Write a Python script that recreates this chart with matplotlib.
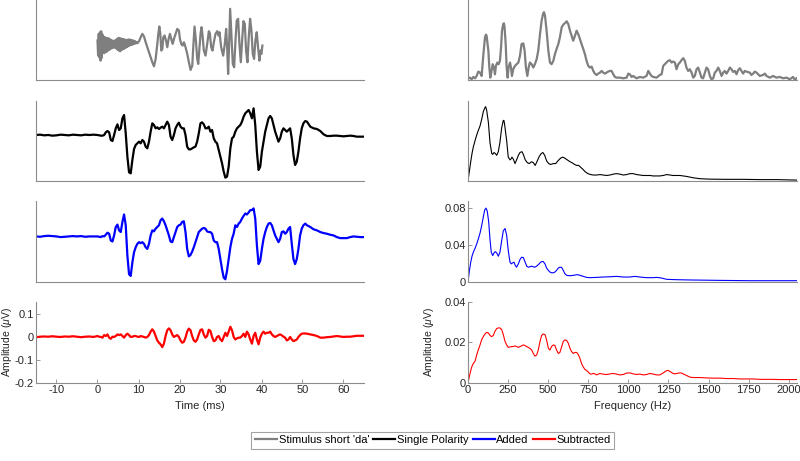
import numpy as np
import matplotlib
matplotlib.use("Agg")
import matplotlib.pyplot as plt
from matplotlib.lines import Line2D

plt.rcParams['font.family'] = ['Liberation Sans', 'DejaVu Sans']
plt.rcParams['font.size'] = 8
plt.rcParams['axes.unicode_minus'] = False
plt.rcParams['mathtext.fontset'] = 'custom'
plt.rcParams['mathtext.it'] = 'Liberation Sans:italic'
plt.rcParams['mathtext.rm'] = 'Liberation Sans'

# ---------------- time domain (ms) ----------------
# stimulus: onset burst sampled every 0.15 ms, then the voiced part
burst_dt = 0.15
stim_burst = [0.10, -0.35, 0.30, -0.40, 0.35, -0.50, 0.38, -0.42, 0.28, -0.25,
              0.22, -0.28, 0.20, -0.22, 0.18, -0.24, 0.16, -0.20, 0.17, -0.18,
              0.14, -0.15, 0.12, -0.13, 0.10, -0.12, 0.09, -0.10, 0.10, -0.12,
              0.12, -0.14, 0.15, -0.18, 0.18, -0.20, 0.17, -0.22, 0.16, -0.18,
              0.15, -0.16, 0.14, -0.15, 0.13, -0.12, 0.12, -0.10, 0.12, -0.08,
              0.13, -0.06, 0.13, -0.04, 0.12, -0.03, 0.11, -0.02, 0.10, 0.00,
              0.09, 0.01, 0.07, 0.02, 0.04]
stim_t = [9.72, 10.13, 10.54, 10.94, 11.35, 11.75, 12.16, 12.56, 12.97, 13.37,
          13.78, 14.18, 14.59, 14.83, 15.08, 15.32, 15.56, 15.81, 16.05, 16.37,
          16.70, 17.02, 17.35, 17.67, 18.00, 18.32, 18.65, 19.05, 19.46, 19.86,
          20.10, 20.43, 20.75, 21.08, 21.48, 21.89, 22.29, 22.70, 23.11, 23.35,
          23.67, 24.00, 24.32, 24.57, 24.81, 25.13, 25.38, 25.62, 25.94, 26.35,
          26.76, 27.16, 27.40, 27.73, 28.05, 28.38, 28.78, 29.19, 29.51, 29.76,
          30.16, 30.65, 31.05, 31.38, 31.62, 31.86, 32.11, 32.35, 32.68, 33.00,
          33.33, 33.65, 33.97, 34.30, 34.62, 34.95, 35.27, 35.59, 35.92, 36.24,
          36.57, 36.89, 37.22, 37.54, 37.87, 38.19, 38.51, 38.84, 39.16, 39.49,
          39.73, 39.97, 40.22]
stim_v = [0.02, 0.08, 0.20, 0.30, 0.22, 0.05, -0.10, -0.25, -0.40, -0.55,
          -0.67, -0.45, 0.00, 0.30, 0.52, 0.30, -0.20, -0.15, 0.20, 0.25,
          0.10, -0.10, 0.15, 0.30, 0.15, 0.00, 0.15, 0.30, 0.45, 0.40,
          0.15, 0.00, -0.05, 0.05, -0.10, -0.30, -0.55, -0.78, -0.65, -0.10,
          0.52, 0.10, -0.45, -0.60, -0.20, 0.30, 0.50, 0.25, -0.20, -0.35,
          0.00, 0.38, 0.32, -0.10, -0.20, 0.05, 0.30, 0.38, 0.25, 0.35,
          -0.10, -0.35, 0.00, 0.45, -0.10, -0.90, 0.00, 1.05, 0.20, -0.60,
          -0.70, 0.10, 0.70, 0.75, 0.00, -0.55, 0.10, 0.68, 0.60, -0.20,
          -0.55, 0.20, 0.75, 0.40, -0.30, -0.45, 0.10, 0.35, -0.10, -0.50,
          -0.20, -0.30, -0.05]

# responses: pre-stimulus (1 ms steps), main part (0.405 ms steps from 0), tail
pre_t = [-15, -14, -13, -12, -11, -10, -9, -8, -7, -6, -5, -4, -3, -2, -1]
resp_dt = 0.405
tail_t = [50.68, 51.09, 51.90, 52.71, 53.52, 54.33, 55.14, 55.95, 56.76, 57.57,
          58.38, 59.19, 60.00, 60.81, 61.62, 62.44, 63.25, 64.06, 65.0]

single_pre = [0.0, 0.01, -0.01, 0.0, -0.02, -0.01, 0.01, 0.0, -0.01, 0.01,
              0.0, -0.01, 0.01, 0.0, 0.01]
single_main = [0.00, -0.01, -0.02, -0.02, 0.00, 0.08, 0.12, 0.08, -0.15, -0.18,
               0.00, 0.20, 0.32, 0.15, 0.20, 0.50, 0.60, 0.05, -0.65, -1.12,
               -1.15, -0.75, -0.42, -0.30, -0.25, -0.20, -0.25, -0.15, -0.20, -0.35,
               -0.40, -0.20, 0.10, 0.35, 0.30, 0.20, 0.23, 0.18, 0.22, 0.25,
               0.20, 0.30, 0.40, 0.30, -0.05, -0.15, 0.00, 0.20, 0.30, 0.37,
               0.25, 0.20, 0.20, 0.00, -0.35, -0.43, -0.43, -0.40, -0.37, -0.35,
               -0.20, 0.05, 0.35, 0.38, 0.32, 0.20, 0.20, 0.25, 0.10, 0.15,
               -0.10, -0.20, -0.25, -0.45, -0.65, -0.85, -1.10, -1.28, -1.25, -0.95,
               -0.40, -0.10, -0.05, 0.10, 0.20, 0.25, 0.30, 0.40, 0.55, 0.65,
               0.70, 0.75, 0.65, 0.50, 0.80, 0.30, -0.50, -1.05, -0.95, -0.50,
               -0.20, 0.10, 0.30, 0.50, 0.57, 0.50, 0.30, 0.10, -0.05, -0.20,
               -0.10, 0.10, 0.20, 0.15, 0.10, 0.15, 0.20, -0.10, -0.60, -0.90,
               -0.80, -0.50, -0.10, 0.20, 0.35]
single_tail = [0.42, 0.40, 0.25, 0.20, 0.18, 0.12, 0.02, -0.03, -0.03, -0.02,
               -0.02, -0.03, -0.04, -0.03, -0.02, -0.03, -0.05, -0.05, -0.05]

added_pre = [0.0, -0.01, 0.01, 0.02, 0.01, 0.0, -0.02, -0.01, 0.0, 0.01,
             0.0, 0.01, -0.01, 0.0, 0.0]
added_main = [0.00, -0.01, -0.02, 0.01, 0.00, 0.05, 0.11, 0.08, -0.12, -0.15,
              0.03, 0.28, 0.35, 0.18, 0.13, 0.43, 0.65, 0.33, -0.57, -1.12,
              -1.17, -0.77, -0.47, -0.32, -0.22, -0.17, -0.20, -0.17, -0.22, -0.32,
              -0.37, -0.22, 0.03, 0.18, 0.15, 0.23, 0.28, 0.33, 0.48, 0.53,
              0.45, 0.33, 0.18, 0.03, -0.15, -0.17, -0.02, 0.13, 0.28, 0.33,
              0.35, 0.43, 0.45, 0.13, -0.37, -0.59, -0.55, -0.45, -0.32, -0.17,
              -0.02, 0.13, 0.18, 0.23, 0.25, 0.23, 0.15, 0.13, 0.13, 0.08,
              -0.12, -0.17, -0.17, -0.37, -0.67, -0.97, -1.22, -1.27, -1.02, -0.67,
              -0.32, -0.07, 0.08, 0.33, 0.28, 0.38, 0.43, 0.53, 0.61, 0.68,
              0.65, 0.71, 0.78, 0.78, 0.83, 0.53, -0.27, -0.82, -0.72, -0.37,
              -0.07, 0.13, 0.28, 0.38, 0.40, 0.33, 0.18, 0.03, -0.07, -0.17,
              -0.07, 0.13, 0.15, 0.08, 0.13, 0.23, 0.28, -0.22, -0.67, -0.82,
              -0.67, -0.37, 0.03, 0.23, 0.33]
added_tail = [0.38, 0.33, 0.28, 0.21, 0.18, 0.13, 0.10, 0.08, 0.05, 0.03,
              -0.02, -0.05, -0.05, -0.05, -0.02, 0.00, -0.01, -0.02, -0.02]

sub_pre = [-0.002, 0.0, 0.001, 0.0, 0.002, 0.0, -0.001, 0.001, 0.0, 0.002,
           0.0, -0.002, 0.0, 0.001, -0.001]
sub_main = [0.003, 0.000, -0.001, -0.004, 0.007, 0.003, 0.010, -0.004, -0.009, 0.000,
            -0.001, 0.003, 0.010, 0.007, 0.010, 0.003, -0.004, 0.007, 0.013, 0.007,
            -0.001, 0.000, 0.003, 0.003, 0.000, -0.001, 0.003, 0.001, -0.001, -0.004,
            -0.001, 0.007, 0.022, 0.032, 0.022, 0.003, -0.016, -0.026, -0.033, -0.045,
            -0.030, 0.003, 0.028, 0.036, 0.028, 0.010, -0.001, 0.003, 0.007, -0.001,
            -0.016, -0.026, -0.022, -0.004, 0.022, 0.035, 0.028, 0.003, -0.016, -0.022,
            -0.012, 0.010, 0.029, 0.032, 0.010, -0.004, 0.003, 0.030, 0.025, -0.001,
            -0.019, -0.016, -0.001, 0.003, -0.012, -0.019, -0.001, 0.017, 0.003, 0.022,
            0.043, 0.028, -0.001, -0.012, -0.007, -0.004, -0.004, 0.003, 0.013, -0.001,
            0.022, 0.010, -0.012, -0.030, 0.003, 0.017, -0.012, -0.033, -0.004, 0.013,
            0.022, 0.013, 0.017, 0.017, 0.022, 0.010, 0.003, -0.001, 0.003, 0.007,
            0.010, 0.006, 0.000, -0.004, -0.016, -0.012, -0.001, -0.012, -0.019, -0.016,
            -0.012, -0.001, 0.007, 0.013, 0.014]
sub_tail = [0.014, 0.013, 0.010, 0.007, 0.003, -0.004, -0.004, -0.002, -0.001, 0.001,
            0.003, 0.001, -0.001, 0.000, 0.000, 0.002, 0.004, 0.004, 0.004]

# ---------------- spectra (Hz) ----------------
stim_f = [2, 12, 23, 33, 44, 54, 64, 75, 85, 96, 106, 112, 116, 127, 133, 139, 145,
          154, 162, 168, 174, 183, 191, 199, 206, 212, 220, 224, 228, 235, 241, 247,
          253, 262, 268, 274, 282, 293, 303, 314, 324, 334, 345, 353, 361, 370, 378,
          386, 397, 407, 417, 428, 438, 449, 459, 469, 474, 480, 490, 501, 511, 521,
          532, 542, 552, 563, 573, 584, 594, 604, 615, 625, 636, 646, 656, 667, 677,
          687, 698, 708, 719, 729, 739, 750, 760, 771, 781, 791, 802, 812, 823, 833,
          843, 854, 864, 874, 885, 895, 906, 916, 926, 947, 968, 989, 999, 1009, 1020,
          1030, 1051, 1072, 1092, 1113, 1124, 1134, 1144, 1155, 1176, 1196, 1207, 1217,
          1227, 1238, 1248, 1259, 1269, 1279, 1290, 1300, 1311, 1321, 1331, 1342, 1352,
          1362, 1373, 1383, 1394, 1404, 1414, 1425, 1435, 1446, 1456, 1466, 1477, 1487,
          1497, 1508, 1518, 1529, 1539, 1549, 1560, 1570, 1581, 1591, 1601, 1612, 1622,
          1633, 1643, 1653, 1664, 1674, 1684, 1695, 1705, 1715, 1726, 1736, 1757, 1767,
          1778, 1788, 1799, 1819, 1840, 1851, 1861, 1882, 1903, 1923, 1944, 1965, 1986,
          2006, 2027, 2038, 2048]
stim_spec = [0.025, 0.035, 0.01, 0.045, 0.025, 0.06, 0.125, 0.11, 0.06, 0.385, 0.64,
             0.675, 0.66, 0.435, 0.185, 0.035, 0.11, 0.235, 0.185, 0.085, 0.21, 0.26,
             0.235, 0.285, 0.485, 0.735, 0.835, 0.845, 0.785, 0.535, 0.185, 0.035,
             0.185, 0.26, 0.185, 0.06, 0.16, 0.21, 0.235, 0.26, 0.36, 0.535, 0.545,
             0.435, 0.185, 0.06, 0.185, 0.26, 0.235, 0.185, 0.235, 0.31, 0.435, 0.685,
             0.885, 0.995, 1.01, 0.96, 0.735, 0.435, 0.26, 0.235, 0.285, 0.385, 0.46,
             0.535, 0.635, 0.785, 0.825, 0.845, 0.875, 0.835, 0.735, 0.66, 0.585, 0.66,
             0.735, 0.685, 0.61, 0.535, 0.46, 0.385, 0.285, 0.21, 0.185, 0.2, 0.135,
             0.095, 0.075, 0.095, 0.11, 0.135, 0.11, 0.095, 0.11, 0.125, 0.135, 0.135,
             0.085, 0.045, 0.035, 0.035, 0.025, 0.035, 0.095, 0.085, 0.045, 0.06, 0.025,
             0.045, 0.035, 0.06, 0.135, 0.095, 0.06, 0.045, 0.035, 0.075, 0.085, 0.21,
             0.235, 0.26, 0.285, 0.295, 0.26, 0.275, 0.26, 0.16, 0.235, 0.26, 0.295,
             0.325, 0.285, 0.185, 0.135, 0.16, 0.11, 0.035, 0.06, 0.16, 0.185, 0.11,
             0.035, 0.025, 0.11, 0.185, 0.16, 0.06, 0.01, 0.025, 0.11, 0.135, 0.185,
             0.135, 0.06, 0.11, 0.135, 0.095, 0.135, 0.185, 0.16, 0.12, 0.135, 0.085,
             0.145, 0.175, 0.135, 0.095, 0.135, 0.125, 0.11, 0.075, 0.095, 0.125, 0.11,
             0.06, 0.075, 0.095, 0.06, 0.035, 0.06, 0.035, 0.045, 0.025, 0.035, 0.01,
             0.045, 0.0, 0.025]

single_f = [0, 8, 17, 25, 33, 44, 54, 64, 75, 85, 96, 106, 110, 116, 127, 137, 148,
            154, 162, 170, 179, 189, 199, 210, 220, 224, 228, 241, 251, 262, 268, 274,
            282, 293, 303, 314, 324, 336, 345, 357, 370, 382, 397, 407, 419, 432, 445,
            457, 467, 478, 490, 503, 515, 532, 547, 561, 578, 590, 603, 619, 636, 648,
            665, 677, 690, 702, 715, 731, 748, 765, 781, 802, 823, 843, 864, 885, 906,
            926, 947, 968, 989, 1009, 1030, 1051, 1072, 1092, 1113, 1134, 1155, 1176,
            1196, 1217, 1238, 1259, 1279, 1300, 1321, 1342, 1362, 1404, 1446, 1508,
            1612, 1715, 1819, 1923, 2048]
single_spec = [0.0, 0.010, 0.021, 0.030, 0.037, 0.044, 0.050, 0.055, 0.060, 0.067,
               0.076, 0.080, 0.081, 0.0775, 0.064, 0.042, 0.030, 0.029, 0.031, 0.030,
               0.028, 0.032, 0.042, 0.058, 0.066, 0.066, 0.062, 0.044, 0.026, 0.023,
               0.024, 0.026, 0.024, 0.019, 0.023, 0.028, 0.031, 0.032, 0.029, 0.023,
               0.020, 0.019, 0.021, 0.020, 0.017, 0.022, 0.027, 0.030, 0.031, 0.028,
               0.022, 0.019, 0.018, 0.019, 0.019, 0.022, 0.025, 0.026, 0.025, 0.023,
               0.021, 0.020, 0.018, 0.017, 0.017, 0.015, 0.013, 0.010, 0.008, 0.007,
               0.0065, 0.0065, 0.007, 0.0065, 0.006, 0.0065, 0.0075, 0.008, 0.0075,
               0.0065, 0.007, 0.008, 0.008, 0.007, 0.0065, 0.006, 0.006, 0.006, 0.0055,
               0.0055, 0.0055, 0.006, 0.007, 0.0065, 0.006, 0.006, 0.006, 0.0055, 0.005,
               0.0035, 0.0025, 0.002, 0.0018, 0.0018, 0.0015, 0.0015, 0.001]

added_f = [0, 8, 17, 25, 33, 44, 54, 64, 75, 85, 96, 104, 112, 120, 129, 137, 145,
           154, 162, 170, 179, 189, 199, 210, 220, 231, 241, 251, 262, 270, 278, 287,
           295, 303, 314, 324, 334, 345, 355, 366, 376, 386, 397, 407, 417, 428, 438,
           449, 459, 469, 480, 490, 501, 511, 521, 532, 542, 552, 563, 573, 584, 594,
           604, 615, 636, 656, 677, 687, 698, 719, 739, 760, 802, 843, 885, 926, 968,
           1009, 1041, 1072, 1113, 1155, 1176, 1207, 1238, 1300, 1383, 1549, 1757, 2048]
added_spec = [0.0, 0.0115, 0.0215, 0.028, 0.0323, 0.0366, 0.0412, 0.0466, 0.0531,
              0.061, 0.071, 0.0782, 0.0803, 0.0771, 0.0653, 0.0466, 0.0323, 0.0287,
              0.0316, 0.033, 0.0316, 0.028, 0.0323, 0.0448, 0.0556, 0.0581, 0.0509,
              0.0341, 0.0215, 0.0197, 0.0208, 0.0215, 0.0179, 0.0161, 0.0197, 0.0244,
              0.0269, 0.0265, 0.0222, 0.0172, 0.0161, 0.0165, 0.0172, 0.0165, 0.0161,
              0.0172, 0.0187, 0.0208, 0.0222, 0.0222, 0.0197, 0.0151, 0.0126, 0.0108,
              0.010, 0.010, 0.0108, 0.0126, 0.0151, 0.0161, 0.0158, 0.0126, 0.009,
              0.0072, 0.0068, 0.0072, 0.0079, 0.0079, 0.0072, 0.0061, 0.005, 0.0047,
              0.005, 0.0054, 0.0057, 0.0061, 0.0054, 0.0054, 0.0061, 0.0054, 0.0047,
              0.0047, 0.005, 0.0043, 0.0029, 0.0025, 0.0022, 0.0018, 0.0014, 0.0014]

sub_f = [0, 12, 23, 33, 44, 54, 64, 75, 85, 96, 106, 116, 127, 137, 147, 158, 168,
         179, 189, 199, 210, 220, 231, 241, 251, 262, 272, 282, 293, 303, 314, 324,
         334, 345, 355, 366, 376, 386, 397, 407, 417, 428, 438, 449, 459, 469, 480,
         490, 501, 511, 521, 532, 542, 552, 563, 573, 584, 594, 604, 615, 625, 636,
         646, 656, 667, 677, 687, 698, 708, 719, 729, 739, 750, 760, 771, 781, 791,
         802, 812, 823, 833, 843, 854, 864, 885, 906, 926, 947, 968, 989, 1009, 1030,
         1051, 1072, 1092, 1113, 1134, 1155, 1176, 1196, 1217, 1238, 1248, 1259, 1279,
         1290, 1300, 1321, 1331, 1342, 1363, 1383, 1404, 1446, 1487, 1529, 1570, 1612,
         1653, 1694, 1736, 1778, 1819, 1861, 1903, 1944, 1986, 2027, 2048]
sub_spec = [0.0, 0.0045, 0.0079, 0.0096, 0.0108, 0.0138, 0.0163, 0.0188, 0.0213,
            0.0230, 0.0242, 0.0250, 0.0247, 0.0235, 0.0229, 0.0235, 0.0255, 0.0269,
            0.0272, 0.0272, 0.0264, 0.0239, 0.0205, 0.0188, 0.0176, 0.0178, 0.0180,
            0.0180, 0.0183, 0.0180, 0.0176, 0.0180, 0.0183, 0.0188, 0.0185, 0.0180,
            0.0175, 0.0171, 0.0163, 0.0146, 0.0133, 0.0138, 0.0163, 0.0205, 0.0235,
            0.0242, 0.0239, 0.0213, 0.0171, 0.0163, 0.0180, 0.0188, 0.0185, 0.0163,
            0.0146, 0.0151, 0.0180, 0.0205, 0.0213, 0.0210, 0.0197, 0.0171, 0.0155,
            0.0146, 0.0151, 0.0151, 0.0141, 0.0121, 0.0096, 0.0079, 0.0067, 0.0062,
            0.0054, 0.0045, 0.0044, 0.0047, 0.0045, 0.0040, 0.0044, 0.0047, 0.0045,
            0.0044, 0.0042, 0.0042, 0.0045, 0.0047, 0.0044, 0.0040, 0.0042, 0.0049,
            0.0050, 0.0045, 0.0042, 0.0044, 0.0040, 0.0042, 0.0047, 0.0044, 0.0040,
            0.0040, 0.0050, 0.0061, 0.0062, 0.0057, 0.0047, 0.0045, 0.0047, 0.0050,
            0.0049, 0.0045, 0.0037, 0.0029, 0.0027, 0.0027, 0.0025, 0.0024, 0.0024,
            0.0022, 0.0022, 0.0020, 0.0020, 0.0020, 0.0018, 0.0018, 0.0018, 0.0017,
            0.0017, 0.0017, 0.0017]

labels = ["Stimulus short 'da'", "Single Polarity", "Added", "Subtracted"]
colors = ['#7f7f7f', 'black', 'blue', 'red']

# assemble time axes
burst_t = np.arange(len(stim_burst)) * burst_dt
main_t = np.arange(len(single_main)) * resp_dt
stim_time = np.concatenate([burst_t, stim_t])
stim_wave = np.concatenate([stim_burst, stim_v])
resp_time = np.concatenate([pre_t, main_t, tail_t])
waves = [np.concatenate([single_pre, single_main, single_tail]),
         np.concatenate([added_pre, added_main, added_tail]),
         np.concatenate([sub_pre, sub_main, sub_tail])]

fig = plt.figure(figsize=(8, 4.61), dpi=100)
rows = [(0.8265, 0.1725), (0.6074, 0.1735), (0.3883, 0.1757), (0.1692, 0.1757)]
ylims_t = [(-1.08, 1.30), (-1.38, 1.02), (-1.35, 1.05), (-0.2, 0.15)]
ylims_f = [(0, 1.185), (0, 0.0872), (0, 0.088), (0, 0.04)]
spine_c = '#8c8c8c'


def style(ax):
    for s in ['top', 'right']:
        ax.spines[s].set_visible(False)
    for s in ['left', 'bottom']:
        ax.spines[s].set_color(spine_c)
        ax.spines[s].set_linewidth(0.8)
    ax.tick_params(direction='in', length=3, color=spine_c, labelcolor='#262626',
                   labelsize=8, width=0.6, pad=1.5)


spec_f = [stim_f, single_f, added_f, sub_f]
spec_v = [stim_spec, single_spec, added_spec, sub_spec]

for i, (b, h) in enumerate(rows):
    axl = fig.add_axes([0.045, b, 0.41, h])
    axr = fig.add_axes([0.585, b, 0.411, h])
    style(axl)
    style(axr)
    if i == 0:
        axl.plot(stim_time, stim_wave, color=colors[0], lw=1.6)
    else:
        axl.plot(resp_time, waves[i - 1], color=colors[i], lw=1.6)
    axl.set_xlim(-15, 65)
    axl.set_ylim(*ylims_t[i])
    axr.plot(spec_f[i], spec_v[i], color=colors[i], lw=1.6 if i == 0 else 0.8)
    axr.set_xlim(0, 2050)
    axr.set_ylim(*ylims_f[i])
    if i < 3:
        axl.set_xticks([])
        axl.set_yticks([])
        axr.set_xticks([])
        if i == 2:
            axr.set_yticks([0, 0.04, 0.08])
            axr.set_yticklabels(['0', '0.04', '0.08'])
        else:
            axr.set_yticks([])
    else:
        axl.set_xticks(range(-10, 61, 10))
        axl.set_yticks([-0.2, -0.1, 0, 0.1])
        axl.set_yticklabels(['-0.2', '-0.1', '0', '0.1'])
        axl.set_xlabel('Time (ms)', color='#262626', labelpad=4)
        axl.set_ylabel(r'Amplitude ($\mu$V)', color='#262626', fontsize=7.5)
        axl.yaxis.set_label_coords(-0.066, 0.5)
        axr.set_xticks(range(0, 2001, 250))
        axr.set_yticks([0, 0.02, 0.04])
        axr.set_yticklabels(['0', '0.02', '0.04'])
        axr.set_xlabel('Frequency (Hz)', color='#262626', labelpad=4)
        axr.set_ylabel(r'Amplitude ($\mu$V)', color='#262626', fontsize=7.5)
        axr.yaxis.set_label_coords(-0.097, 0.5)

handles = [Line2D([], [], color=c, lw=1.6) for c in colors]
leg = fig.legend(handles, labels, loc='center', bbox_to_anchor=(0.541, 0.045),
                 ncol=4, frameon=True, fancybox=False, handlelength=2.0,
                 handletextpad=0.15, columnspacing=0.35, borderpad=0.3,
                 borderaxespad=0, fontsize=8)
leg.get_frame().set_edgecolor('#8c8c8c')
leg.get_frame().set_linewidth(0.8)

fig.savefig('out.png', dpi=100)
